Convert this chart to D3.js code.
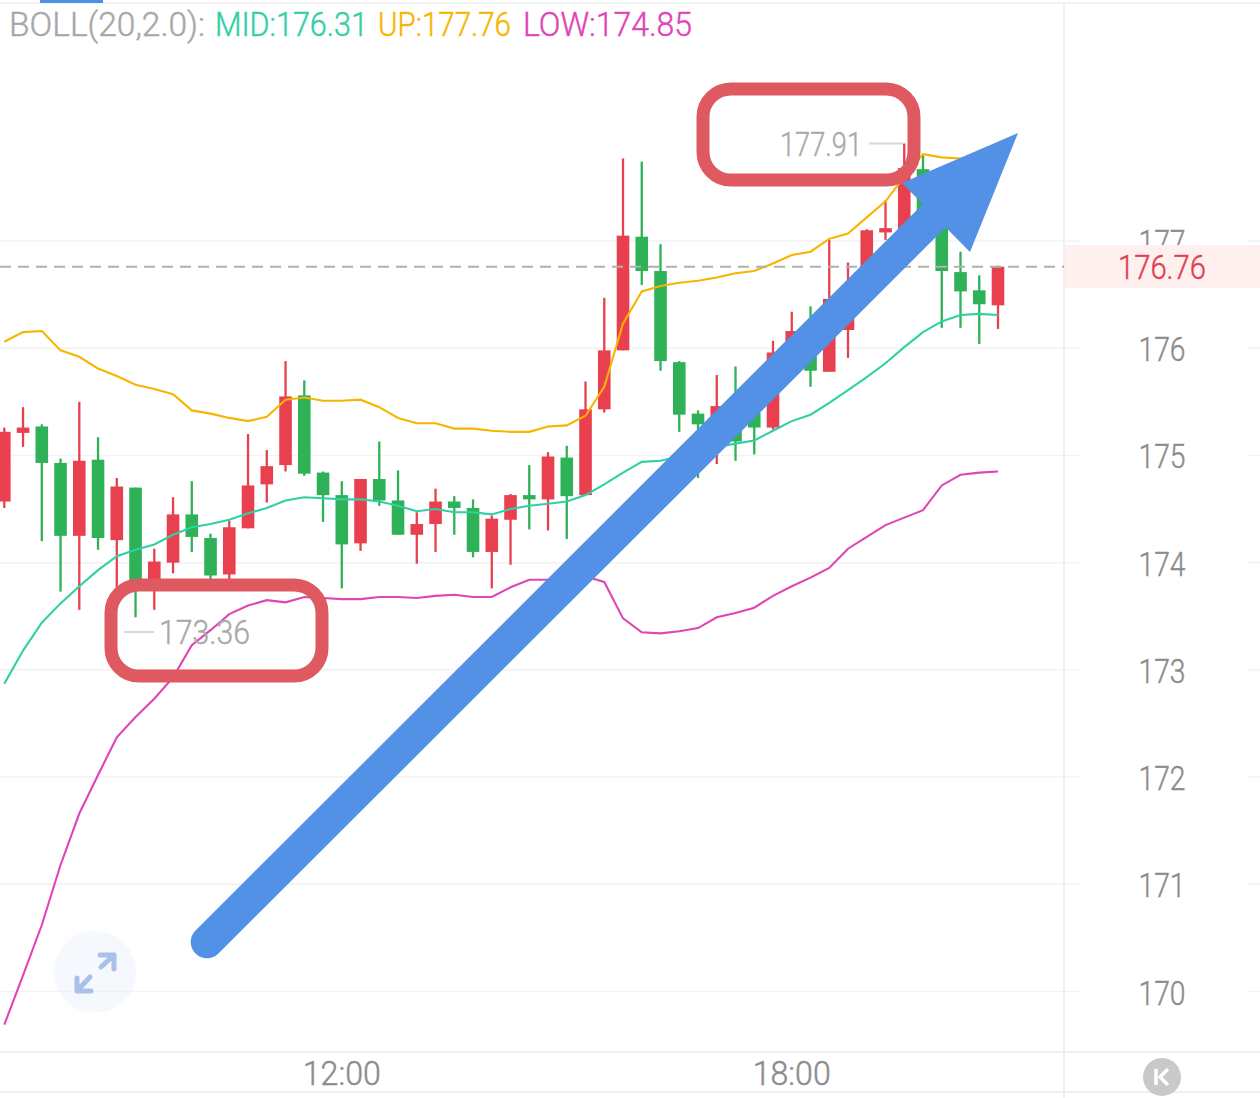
<!DOCTYPE html>
<html><head><meta charset="utf-8">
<style>html,body{margin:0;padding:0;background:#fff;overflow:hidden}svg{display:block}text{font-family:Roboto,sans-serif;font-weight:300}</style>
<script src="https://cdn.jsdelivr.net/npm/d3@7/dist/d3.min.js"></script>
</head><body><svg id="c" width="1260" height="1098"></svg>
<script>
const opens=[174.57,175.21,175.27,174.93,174.25,174.96,174.21,174.70,173.84,174.00,174.45,174.23,173.89,174.32,174.73,174.91,175.56,174.84,174.63,174.18,174.78,174.58,174.26,174.36,174.57,174.51,174.10,174.40,174.63,174.59,174.98,174.63,175.43,175.98,177.04,176.72,175.87,175.39,175.14,175.42,175.40,175.26,175.84,176.10,175.78,176.17,176.59,177.08,177.10,177.67,177.13,176.71,176.54,176.40];
const closes=[175.22,175.26,174.93,174.25,174.95,174.23,174.71,173.81,174.01,174.45,174.24,173.88,174.33,174.72,174.90,175.55,174.83,174.63,174.17,174.78,174.58,174.26,174.36,174.57,174.51,174.10,174.41,174.63,174.59,174.99,174.62,175.43,175.98,177.05,176.72,175.88,175.38,175.29,175.46,175.13,175.26,175.96,176.16,175.79,176.46,176.59,177.10,177.12,177.68,177.12,176.72,176.53,176.41,176.76];
const highs=[175.26,175.45,175.29,174.97,175.50,175.17,174.79,174.70,174.13,174.61,174.76,174.27,174.39,175.20,175.05,175.88,175.70,174.85,174.76,174.78,175.13,174.86,174.47,174.69,174.62,174.59,174.44,174.64,174.91,175.03,175.09,175.69,176.47,177.77,177.74,176.97,175.88,175.42,175.75,175.83,175.61,176.07,176.34,176.39,177.01,176.80,177.11,177.38,177.91,177.81,177.13,176.90,176.68,176.77];
const lows=[174.51,175.08,174.20,173.73,173.56,174.12,173.74,173.49,173.56,173.90,174.10,173.84,173.84,174.32,174.56,174.85,174.81,174.38,173.76,174.11,174.53,174.26,173.99,174.10,174.26,174.05,173.76,173.98,174.31,174.30,174.22,174.63,175.40,175.98,176.59,175.79,175.22,174.79,174.92,174.95,175.01,175.24,175.79,175.64,175.78,175.91,176.54,177.01,177.10,177.05,176.19,176.19,176.04,176.18];
const bollUp=[176.06,176.15,176.16,175.98,175.92,175.81,175.74,175.66,175.62,175.57,175.42,175.39,175.35,175.32,175.36,175.52,175.54,175.51,175.51,175.52,175.45,175.35,175.30,175.30,175.25,175.25,175.23,175.22,175.22,175.27,175.28,175.37,175.64,176.23,176.53,176.58,176.61,176.63,176.66,176.70,176.72,176.79,176.87,176.90,177.02,177.07,177.22,177.37,177.60,177.81,177.78,177.77,177.76,177.76];
const bollMid=[172.87,173.18,173.44,173.62,173.78,173.93,174.06,174.12,174.17,174.26,174.33,174.36,174.40,174.46,174.51,174.58,174.61,174.60,174.59,174.59,174.57,174.53,174.48,174.50,174.47,174.47,174.45,174.50,174.53,174.55,174.57,174.63,174.73,174.84,174.94,174.95,174.99,175.03,175.08,175.11,175.14,175.23,175.32,175.38,175.49,175.61,175.73,175.86,176.01,176.15,176.25,176.31,176.32,176.31];
const bollLow=[169.69,170.15,170.62,171.18,171.66,172.02,172.37,172.56,172.73,172.93,173.23,173.37,173.52,173.60,173.65,173.63,173.68,173.67,173.66,173.66,173.68,173.68,173.67,173.69,173.70,173.68,173.68,173.77,173.84,173.84,173.82,173.87,173.82,173.48,173.35,173.34,173.36,173.39,173.49,173.53,173.58,173.69,173.78,173.86,173.95,174.13,174.24,174.35,174.42,174.49,174.72,174.82,174.84,174.85];
const priceTicks=[177,176,175,174,173,172,171,170];
const timeTicks=[[18,"12:00"],[42,"18:00"]];
const lastPrice=176.76, maxLabel="177.91", minLabel="173.36";

const svg=d3.select("#c");
const x=d3.scaleLinear().domain([0,53]).range([4.3,998]);
const y=d3.scaleLinear().domain([170,177]).range([991.5,241]);
const G="#2fb158",R="#e8404f",grid="#f2f2f2";
const txt=(t,px,py,col,len,anchor="start",size=33)=>{const n=svg.append("text").attr("x",px).attr("y",py).attr("fill",col).attr("stroke",col).attr("stroke-width",.45).attr("font-size",size).attr("text-anchor",anchor).text(t);
 if(len){n.attr("textLength",len).attr("lengthAdjust","spacingAndGlyphs");}return n;};

// frame
svg.append("line").attr("x1",1064).attr("x2",1064).attr("y1",3).attr("y2",1098).attr("stroke","#f0f0f0").attr("stroke-width",2);
svg.append("line").attr("x1",0).attr("x2",1260).attr("y1",3).attr("y2",3).attr("stroke","#f3f3f3").attr("stroke-width",2);
svg.append("rect").attr("x",40).attr("y",0).attr("width",63).attr("height",3).attr("fill","#4d8fe8");
[1052,1092].forEach(v=>svg.append("line").attr("x1",0).attr("x2",1260).attr("y1",v).attr("y2",v).attr("stroke","#f0f0f0").attr("stroke-width",2));

// zoom button (sits under the grid)
svg.append("circle").attr("cx",95).attr("cy",972).attr("r",41).attr("fill","#f5f8fd");

// grid
priceTicks.forEach(t=>{
 svg.append("line").attr("x1",0).attr("x2",1079).attr("y1",y(t)).attr("y2",y(t)).attr("stroke",grid).attr("stroke-width",1.5);
 svg.append("line").attr("x1",1248).attr("x2",1260).attr("y1",y(t)).attr("y2",y(t)).attr("stroke",grid).attr("stroke-width",1.5);
});

const btn=svg.append("g").attr("fill","none").attr("stroke","#a9c1ea").attr("stroke-width",5).attr("stroke-linecap","round").attr("stroke-linejoin","round");
btn.append("path").attr("d","M101 967L114 955M100 955H114V969");
btn.append("path").attr("d","M90 977L77 991M77 978V991H91");

// candles
const idx=d3.range(opens.length);
const cg=svg.append("g");
cg.selectAll(".wick").data(idx).join("line").attr("x1",i=>x(i)).attr("x2",i=>x(i)).attr("y1",i=>y(highs[i])).attr("y2",i=>y(lows[i])).attr("stroke-width",2.3).attr("stroke",i=>closes[i]>=opens[i]?R:G);
cg.selectAll(".body").data(idx).join("rect").attr("x",i=>x(i)-6.3).attr("width",12.6).attr("y",i=>y(Math.max(opens[i],closes[i]))).attr("height",i=>Math.max(2,Math.abs(y(opens[i])-y(closes[i])))).attr("fill",i=>closes[i]>=opens[i]?R:G);

// bollinger
const line=d3.line().x((d,i)=>x(i)).y(d=>y(d));
[[bollUp,"#f7b500"],[bollMid,"#2fd0a5"],[bollLow,"#df45b5"]].forEach(([d,c])=>svg.append("path").attr("d",line(d)).attr("fill","none").attr("stroke",c).attr("stroke-width",2.1));

// last price
svg.append("line").attr("x1",0).attr("x2",1064).attr("y1",y(lastPrice)).attr("y2",y(lastPrice)).attr("stroke","#b0b0b0").attr("stroke-width",2.2).attr("stroke-dasharray","11 7");

// y labels
priceTicks.forEach(t=>txt(String(t),1162,y(t)+13,"#8c8c8c",47,"middle"));
svg.append("rect").attr("x",1065).attr("y",245).attr("width",195).attr("height",43).attr("fill","#fff0f0");
txt("176.76",1162,y(lastPrice)+12.5,"#e0404f",88,"middle");
timeTicks.forEach(([i,l])=>txt(l,x(i),1085,"#8c8c8c",78,"middle"));

// high/low labels
txt(maxLabel,780,156,"#aaaaaa",82);
svg.append("line").attr("x1",869).attr("x2",903).attr("y1",y(177.91)).attr("y2",y(177.91)).attr("stroke","#d8d8d8").attr("stroke-width",2);
txt(minLabel,159,644,"#aaaaaa",91);
svg.append("line").attr("x1",124).attr("x2",154).attr("y1",632).attr("y2",632).attr("stroke","#d8d8d8").attr("stroke-width",2);

// legend
txt("BOLL(20,2.0):",9,36,"#a8a8a8",196);
txt("MID:176.31",215,36,"#2fd0a5",153);
txt("UP:177.76",378,36,"#f7b500",133);
txt("LOW:174.85",523,36,"#df45b5",169);

// K button
svg.append("circle").attr("cx",1162).attr("cy",1077).attr("r",19).attr("fill","#c9c9c9");
svg.append("path").attr("d","M1156 1069V1085M1168 1069L1160 1077L1168 1085").attr("fill","none").attr("stroke","#fff").attr("stroke-width",3.5);

// annotation
[[111,585],[703,89]].forEach(([a,b])=>svg.append("rect").attr("x",a).attr("y",b).attr("width",211).attr("height",91).attr("rx",28).attr("fill","none").attr("stroke","#de5a60").attr("stroke-width",13));
svg.append("line").attr("x1",207).attr("y1",942).attr("x2",947).attr("y2",203).attr("stroke","#5291e6").attr("stroke-width",32.5).attr("stroke-linecap","round");
svg.append("polygon").attr("points","1018,133 902,183 970,252").attr("fill","#5291e6");
</script></body></html>
